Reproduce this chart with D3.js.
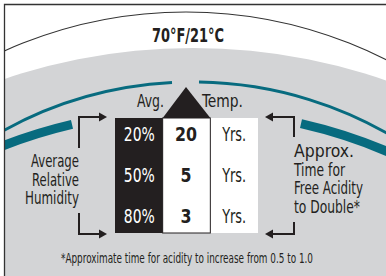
<!DOCTYPE html>
<html>
<head>
<meta charset="utf-8">
<script src="https://cdn.jsdelivr.net/npm/d3@7"></script>
<style>
  body { margin: 0; background: #fff; }
  text { font-family: "Liberation Sans Narrow", "DejaVu Sans Condensed", "Roboto", sans-serif; fill: #231f20; }
</style>
</head>
<body>
<div id="chart"></div>
<script>
// chart content
var title = "70°F/21°C";
var headers = ["Avg.", "Temp."];
var humidity = ["20%", "50%", "80%"];
var years = [20, 5, 3];
var unit = "Yrs.";
var leftLabel = ["Average", "Relative", "Humidity"];
var rightLabel = ["Approx.", "Time for", "Free Acidity", "to Double*"];
var footnote = "*Approximate time for acidity to increase from 0.5 to 1.0";

var svgWidth = 386, svgHeight = 276;
var teal = "#076b7f", gray = "#d3d4d6", ink = "#231f20";

var svg = d3.select("#chart")
  .append("svg")
  .attr("width", svgWidth)
  .attr("height", svgHeight);

svg.append("clipPath").attr("id", "frame")
  .append("rect").attr("x", 4).attr("y", 4).attr("width", 400).attr("height", 300);

var g = svg.append("g").attr("clip-path", "url(#frame)");

// big gray disk
g.append("circle")
  .attr("cx", 193).attr("cy", 637).attr("r", 589)
  .attr("fill", gray);

// thin outer arc
g.append("circle")
  .attr("cx", 186).attr("cy", 455).attr("r", 443)
  .attr("fill", "none").attr("stroke", "#333").attr("stroke-width", 1.1);

// angle on a circle for a given x (d3.arc angles start at 12 o'clock)
function ang(cx, r, x) { return Math.asin(Math.max(-1, Math.min(1, (x - cx) / r))); }

function band(cx, cy, r, w, x0, x1) {
  g.append("path")
    .attr("transform", "translate(" + cx + "," + cy + ")")
    .attr("d", d3.arc()({ innerRadius: r - w / 2, outerRadius: r + w / 2,
      startAngle: ang(cx, r, x0), endAngle: ang(cx, r, x1) }))
    .attr("fill", teal);
}

// thin teal ring with a gap at the top
band(193, 475, 393, 3, -20, 172);
band(193, 475, 393, 3, 199, 410);
// thick teal pieces
band(188, 621, 510, 9, -20, 72);
band(188, 621, 510, 9, 301, 410);

function label(sel, txt, x, y, opts) {
  var t = sel.append("text").attr("x", x).attr("y", y).text(txt)
    .attr("font-size", opts.size || 17)
    .attr("text-anchor", opts.anchor || "middle");
  if (opts.bold) t.attr("font-weight", "bold");
  if (opts.fill) t.style("fill", opts.fill);
  if (opts.len) t.attr("textLength", opts.len).attr("lengthAdjust", "spacingAndGlyphs");
  return t;
}

// title
label(svg, title, 188, 42, { size: 19, bold: true, len: 72 });

// table
var cols = d3.scaleBand().domain(["rh", "years", "unit"]).range([115, 258]);
var rowY = d3.scalePoint().domain(humidity).range([141, 223]);
var tableTop = 118, tableBottom = 233;

svg.append("rect")
  .attr("x", cols("unit")).attr("y", tableTop)
  .attr("width", cols.bandwidth()).attr("height", tableBottom - tableTop)
  .attr("fill", "#fff");
svg.append("rect")
  .attr("x", cols("years")).attr("y", tableTop)
  .attr("width", cols.bandwidth()).attr("height", tableBottom - tableTop)
  .attr("fill", "#fff").attr("stroke", ink).attr("stroke-width", 1);
svg.append("rect")
  .attr("x", cols("rh")).attr("y", tableTop)
  .attr("width", cols.bandwidth()).attr("height", tableBottom - tableTop)
  .attr("fill", ink);

// triangle pointer over middle column
var x0 = cols("years"), x1 = x0 + cols.bandwidth();
svg.append("path")
  .attr("d", "M" + x0 + "," + tableTop + "L" + ((x0 + x1) / 2 - 0.5) + ",87L" + x1 + "," + tableTop + "Z")
  .attr("fill", ink);

label(svg, headers[0], 164, 107, { size: 18, anchor: "end", len: 27 });
label(svg, headers[1], 202, 107, { size: 18, anchor: "start", len: 41 });

humidity.forEach(function(h, i) {
  var y = rowY(h);
  label(svg, h, cols("rh") + cols.bandwidth() / 2 + 0.5, y, { size: 19, fill: "#fff", len: 31 });
  label(svg, years[i], cols("years") + cols.bandwidth() / 2 - 0.5, y,
    { size: 20, bold: true, len: String(years[i]).length * 11 });
  label(svg, unit, cols("unit") + cols.bandwidth() / 2, y, { size: 19, len: 24 });
});

// side labels
var leftY = d3.scalePoint().domain(leftLabel).range([167, 204]);
var leftW = [48, 47, 54];
leftLabel.forEach(function(t, i) {
  label(svg, t, 79, leftY(t), { size: 17, anchor: "end", len: leftW[i] });
});
var rightY = d3.scalePoint().domain(rightLabel).range([157, 213]);
var rightW = [60, 51, 69, 66];
rightLabel.forEach(function(t, i) {
  label(svg, t, 294, rightY(t), { size: 17, anchor: "start", len: rightW[i] });
});

// bracket arrows
function bracket(vx, vy0, vy1, tipX) {
  var dir = tipX > vx ? 1 : -1;
  svg.append("path")
    .attr("d", "M" + vx + "," + vy0 + "V" + vy1 + "H" + (tipX - dir * 6))
    .attr("fill", "none").attr("stroke", ink).attr("stroke-width", 2);
  svg.append("path")
    .attr("d", "M" + tipX + "," + vy1 + "L" + (tipX - dir * 8) + "," + (vy1 - 4.5) +
      "L" + (tipX - dir * 8) + "," + (vy1 + 4.5) + "Z")
    .attr("fill", ink);
}
bracket(79, 148, 117, 107);
bracket(79, 213, 234, 107);
bracket(294, 137, 117, 265);
bracket(294, 222, 234, 265);

label(svg, footnote, 187, 263, { size: 13.5, len: 252 });

// frame
svg.append("path")
  .attr("d", "M4.5,280V4.5H390")
  .attr("fill", "none").attr("stroke", "#333").attr("stroke-width", 1.3);
</script>
</body>
</html>
